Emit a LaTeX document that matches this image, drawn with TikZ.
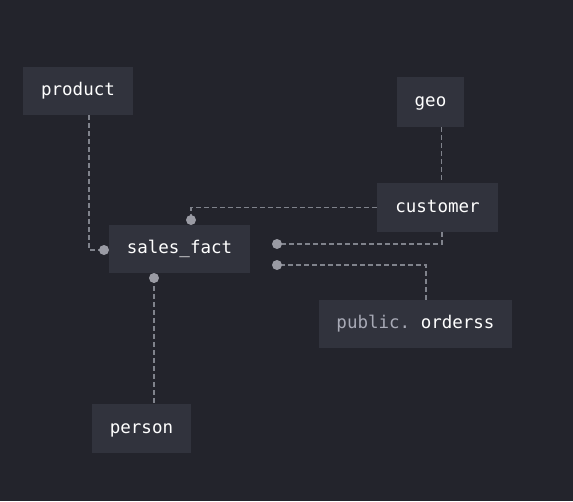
\documentclass[tikz,border=0pt]{standalone}
\usepackage{fontspec}
\setmonofont{DejaVu Sans Mono}
\definecolor{bgc}{HTML}{23242C}
\definecolor{boxc}{HTML}{31333D}
\definecolor{linec}{HTML}{80838C}
\definecolor{dotc}{HTML}{9A9BA4}
\definecolor{dimtext}{HTML}{A8AAB6}
\tikzset{
  tbl/.style={fill=boxc, draw=none, text=white, font=\ttfamily\fontsize{17.5}{19}\selectfont, inner sep=0pt, text height=14pt, text depth=4.3pt, anchor=center},
  conn/.style={draw=linec, line width=1.5pt, dash pattern=on 5pt off 3pt},
  dotmark/.style={circle, fill=dotc, draw=none, minimum size=10pt, inner sep=0pt}
}
\begin{document}
\begin{tikzpicture}[x=1pt,y=-1pt]
\fill[bgc] (0,0) rectangle (573,501);
\useasboundingbox (0,0) rectangle (573,501);
% tables
\node[tbl, minimum width=110pt, minimum height=48pt] (product) at (78,91) {product};
\node[tbl, minimum width=67pt, minimum height=50pt] (geo) at (430.5,102) {geo};
\node[tbl, minimum width=121pt, minimum height=49pt] (customer) at (437.5,207.5) {customer};
\node[tbl, minimum width=141pt, minimum height=48pt] (sales) at (179.5,249) {sales\_fact};
\node[tbl, minimum width=193pt, minimum height=48pt] (orders) at (415.5,324) {\textcolor{dimtext}{public.} orderss};
\node[tbl, minimum width=99pt, minimum height=49pt] (person) at (141.5,428.5) {person};
% connector ends
\coordinate (d1) at (104,250);
\coordinate (d2) at (191,220);
\coordinate (d3) at (277,244);
\coordinate (d4) at (277,265);
\coordinate (d5) at (154,278);
% connectors
\draw[conn] ([xshift=11pt]product.south) |- (d1);
\draw[conn] (customer.west) -| (d2);
\draw[conn] ([xshift=11pt]geo.south) -- ([xshift=11pt]geo.south |- customer.north);
\draw[conn] ([xshift=4.5pt]customer.south) |- (d3);
\draw[conn] ([xshift=10.5pt]orders.north) |- (d4);
\draw[conn] (d5) -- (d5 |- person.north);
% dots
\foreach \d in {d1,d2,d3,d4,d5} \node[dotmark] at (\d) {};
\end{tikzpicture}
\end{document}
